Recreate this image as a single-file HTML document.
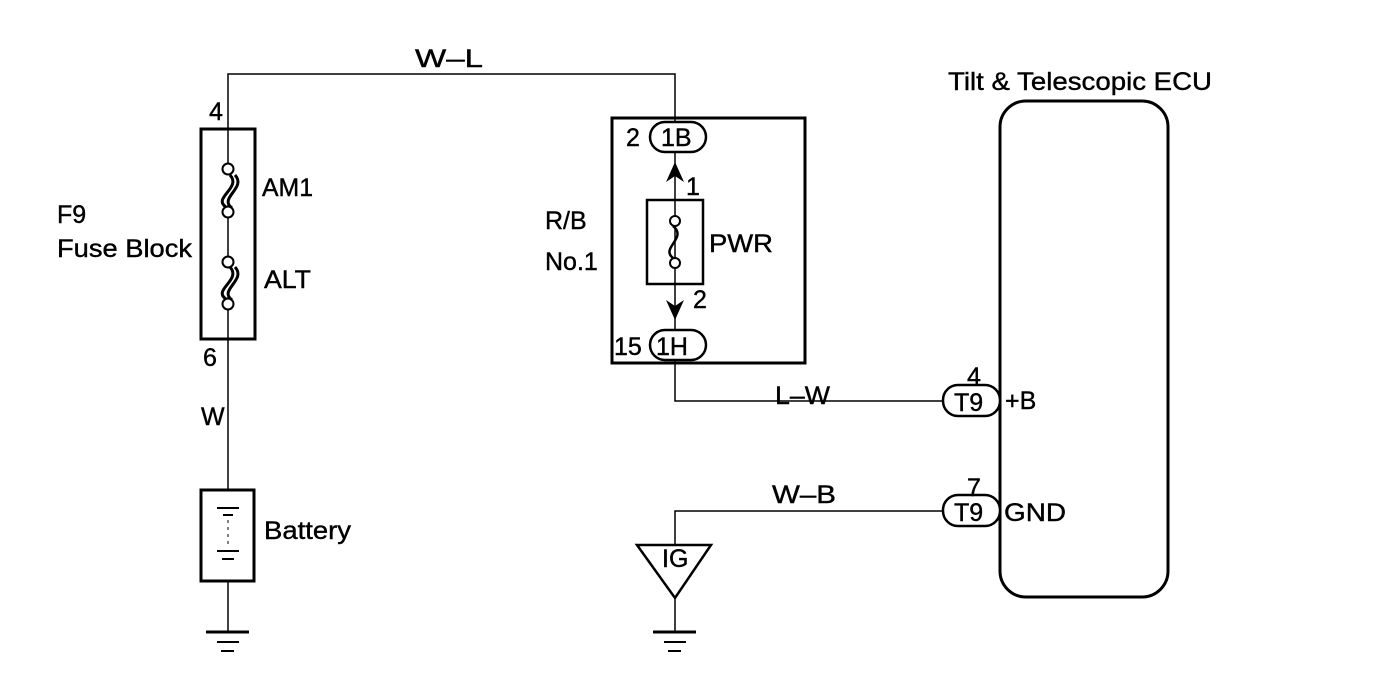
<!DOCTYPE html>
<html><head><meta charset="utf-8"><style>
html,body{margin:0;padding:0;background:#fff;}
svg{display:block;}
text{font-family:"Liberation Sans",Arial,sans-serif;font-size:25px;fill:#000;stroke:#000;stroke-width:0.4;}
</style></head><body>
<svg width="1392" height="688" viewBox="0 0 1392 688" xmlns="http://www.w3.org/2000/svg">
<g stroke="#000" fill="none">
<polyline points="228,129 228,74 675,74 675,122" stroke-width="1.5"/>
<line x1="228" y1="339" x2="228" y2="490" stroke-width="1.5"/>
<line x1="228" y1="581" x2="228" y2="631" stroke-width="1.5"/>
<line x1="228" y1="129" x2="228" y2="164" stroke-width="1.5"/>
<line x1="228" y1="217" x2="228" y2="257" stroke-width="1.5"/>
<line x1="228" y1="309" x2="228" y2="339" stroke-width="1.5"/>
<polyline points="675,360 675,401 943,401" stroke-width="1.5"/>
<polyline points="943,511 675,511 675,545" stroke-width="1.5"/>
<line x1="675" y1="598" x2="675" y2="631" stroke-width="1.5"/>
<rect x="201" y="129" width="54" height="210" stroke-width="3"/>
<path d="M226,207 C212,198 242,188 230,175 M232,208 C218,198 247,188 235,175" stroke-width="3"/>
<path d="M226,299 C212,290 242,280 230,267 M232,300 C218,290 247,280 235,267" stroke-width="3"/>
<circle cx="228" cy="169" r="5.5" stroke-width="2" fill="#fff"/>
<circle cx="228" cy="212" r="5.5" stroke-width="2" fill="#fff"/>
<circle cx="228" cy="262" r="5.5" stroke-width="2" fill="#fff"/>
<circle cx="228" cy="304" r="5.5" stroke-width="2" fill="#fff"/>
<rect x="201" y="490" width="53" height="91" stroke-width="3"/>
<line x1="217" y1="508" x2="239" y2="508" stroke-width="2"/>
<line x1="223" y1="515" x2="233" y2="515" stroke-width="2"/>
<line x1="228" y1="520" x2="228" y2="547" stroke-width="1" stroke-dasharray="3,4"/>
<line x1="217" y1="551" x2="239" y2="551" stroke-width="2"/>
<line x1="222" y1="559" x2="234" y2="559" stroke-width="2"/>
<line x1="206" y1="632" x2="249" y2="632" stroke-width="3"/>
<line x1="217" y1="642" x2="239" y2="642" stroke-width="2"/>
<line x1="221" y1="651" x2="234" y2="651" stroke-width="2"/>
<line x1="653" y1="632" x2="696" y2="632" stroke-width="3"/>
<line x1="664" y1="642" x2="686" y2="642" stroke-width="2"/>
<line x1="668" y1="651" x2="681" y2="651" stroke-width="2"/>
<polygon points="637,545 711,545 675,598" stroke-width="2.5"/>
<rect x="612" y="118" width="193" height="245" stroke-width="3"/>
<line x1="675" y1="152" x2="675" y2="330" stroke-width="1.5"/>
<rect x="647" y="200" width="56" height="84" stroke-width="2.5" fill="#fff"/>
<line x1="675" y1="200" x2="675" y2="284" stroke-width="1.5"/>
<path d="M673,258 C660,248 688,238 673,226" stroke-width="2.5"/>
<circle cx="675" cy="221" r="5" stroke-width="2" fill="#fff"/>
<circle cx="675" cy="263" r="5" stroke-width="2" fill="#fff"/>
<rect x="650" y="122" width="56" height="30" rx="15" stroke-width="2.5" fill="#fff"/>
<rect x="650" y="330" width="56" height="30" rx="15" stroke-width="2.5" fill="#fff"/>
<rect x="1000" y="101" width="168" height="496" rx="26" stroke-width="3"/>
<rect x="943" y="385" width="57" height="31" rx="15" stroke-width="2.5" fill="#fff"/>
<rect x="943" y="495" width="57" height="31" rx="15" stroke-width="2.5" fill="#fff"/>
</g>
<polygon points="666,182 675,162 684,182 675,176" fill="#000"/>
<polygon points="666,300 675,306 684,300 675,320" fill="#000"/>
<g>
<text x="415" y="67" textLength="68" lengthAdjust="spacingAndGlyphs">W–L</text>
<text x="209" y="120">4</text>
<text x="203" y="366">6</text>
<text x="201" y="425">W</text>
<text x="262" y="196" textLength="51" lengthAdjust="spacingAndGlyphs">AM1</text>
<text x="264" y="288" textLength="47" lengthAdjust="spacingAndGlyphs">ALT</text>
<text x="57" y="223">F9</text>
<text x="57" y="257" textLength="135" lengthAdjust="spacingAndGlyphs">Fuse Block</text>
<text x="264" y="539" textLength="87" lengthAdjust="spacingAndGlyphs">Battery</text>
<text x="545" y="229">R/B</text>
<text x="545" y="270">No.1</text>
<text x="626" y="146">2</text>
<text x="661" y="146">1B</text>
<text x="686" y="195">1</text>
<text x="693" y="308">2</text>
<text x="709" y="252" textLength="64" lengthAdjust="spacingAndGlyphs">PWR</text>
<text x="614" y="355">15</text>
<text x="656" y="355">1H</text>
<text x="775" y="404" textLength="55" lengthAdjust="spacingAndGlyphs">L–W</text>
<text x="772" y="503" textLength="64" lengthAdjust="spacingAndGlyphs">W–B</text>
<text x="662" y="567">IG</text>
<text x="948" y="90" textLength="264" lengthAdjust="spacingAndGlyphs">Tilt &amp; Telescopic ECU</text>
<text x="967" y="385">4</text>
<text x="954" y="411">T9</text>
<text x="1005" y="409">+B</text>
<text x="967" y="496">7</text>
<text x="954" y="521">T9</text>
<text x="1004" y="521" textLength="62" lengthAdjust="spacingAndGlyphs">GND</text>
</g>
</svg>
</body></html>
